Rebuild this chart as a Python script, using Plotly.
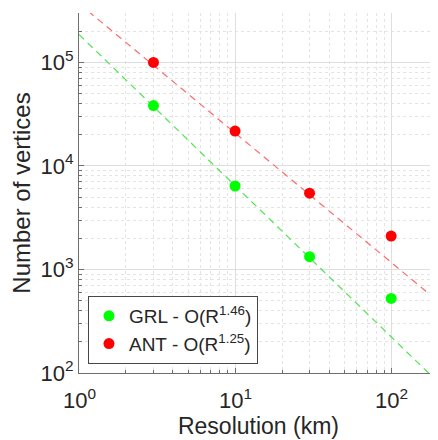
import numpy as np
import plotly.graph_objects as go

# Data
resolution_km = [3, 10, 30, 100]
grl_vertices = [38300, 6400, 1330, 525]
ant_vertices = [100000, 21700, 5450, 2100]

# Power-law fits N = C * R^(-p)
grl_coef, grl_exp = 1.86e5, 1.46
ant_coef, ant_exp = 3.7e5, 1.25
fit_x = [1, 200]

major_x = [1, 10, 100]
major_x_text = ["10<sup>0</sup>", "10<sup>1</sup>", "10<sup>2</sup>"]
major_y = [100, 1000, 10000, 100000]
major_y_text = ["10<sup>2</sup>", "10<sup>3</sup>", "10<sup>4</sup>", "10<sup>5</sup>"]

minor_x = [m * d for d in [1, 10, 100] for m in range(2, 10)]
minor_y = [m * d for d in [100, 1000, 10000, 100000] for m in range(2, 10)]

GREEN = "#00ff00"
RED = "#ff0000"
FONT = "Liberation Sans, Arial, sans-serif"
TXT = "#262626"

fig = go.Figure()

fx = np.array(fit_x, dtype=float)
fig.add_trace(go.Scatter(x=fx, y=grl_coef * fx ** (-grl_exp), mode="lines",
                         line=dict(color="rgba(60,225,60,0.9)", width=1.2, dash="7px,5px"),
                         showlegend=False, hoverinfo="skip"))
fig.add_trace(go.Scatter(x=fx, y=ant_coef * fx ** (-ant_exp), mode="lines",
                         line=dict(color="rgba(255,90,90,0.9)", width=1.2, dash="7px,5px"),
                         showlegend=False, hoverinfo="skip"))

fig.add_trace(go.Scatter(x=resolution_km, y=grl_vertices, mode="markers",
                         marker=dict(color=GREEN, size=11),
                         name="GRL - O(R<sup>1.46</sup>)"))
fig.add_trace(go.Scatter(x=resolution_km, y=ant_vertices, mode="markers",
                         marker=dict(color=RED, size=11),
                         name="ANT - O(R<sup>1.25</sup>)"))

axis_common = dict(
    automargin=False,
    showgrid=True, gridcolor="rgb(222,222,222)", gridwidth=1,
    showline=True, linecolor="rgb(110,110,110)", linewidth=1.3,
    ticks="inside", ticklen=5, tickcolor="rgb(110,110,110)",
    tickfont=dict(family=FONT, size=22, color=TXT),
    zeroline=False, mirror=False,
)
minor_common = dict(tickmode="array", showgrid=True,
                    gridcolor="rgb(228,228,228)", griddash="dot", gridwidth=1,
                    ticks="inside", ticklen=3, tickcolor="rgb(110,110,110)")

# x tick labels are placed as centred annotations at the tick values
fig.update_xaxes(
    type="log", range=[0, 2.3], tickmode="array", tickvals=major_x, ticktext=major_x_text,
    showticklabels=False,
    minor=dict(tickvals=minor_x, **minor_common),
    title=dict(text="Resolution (km)", standoff=44,
               font=dict(family=FONT, size=23, color=TXT)),
    **axis_common)
fig.update_yaxes(
    type="log", range=[2, 5.477], tickmode="array", tickvals=major_y, ticktext=major_y_text,
    minor=dict(tickvals=minor_y, **minor_common),
    title=dict(text="Number of vertices", standoff=6,
               font=dict(family=FONT, size=24, color=TXT)),
    **axis_common)

for v, t in zip(major_x, major_x_text):
    fig.add_annotation(x=np.log10(v), xref="x", y=-0.072, yref="paper",
                       text=t, showarrow=False, xanchor="center", yanchor="middle",
                       font=dict(family=FONT, size=22, color=TXT))

# page body has an 8px default margin, so the figure is offset by 8px
fig.update_layout(
    width=430, height=432,
    margin=dict(l=71, r=0, t=5, b=67, autoexpand=False),
    plot_bgcolor="white", paper_bgcolor="white",
    legend=dict(x=0.025, y=0.025, xanchor="left", yanchor="bottom",
                bgcolor="white", bordercolor="rgb(70,70,70)", borderwidth=1,
                font=dict(family=FONT, size=19, color=TXT),
                itemwidth=30, tracegroupgap=0),
    font=dict(family=FONT),
)

fig.write_html("out.html")
